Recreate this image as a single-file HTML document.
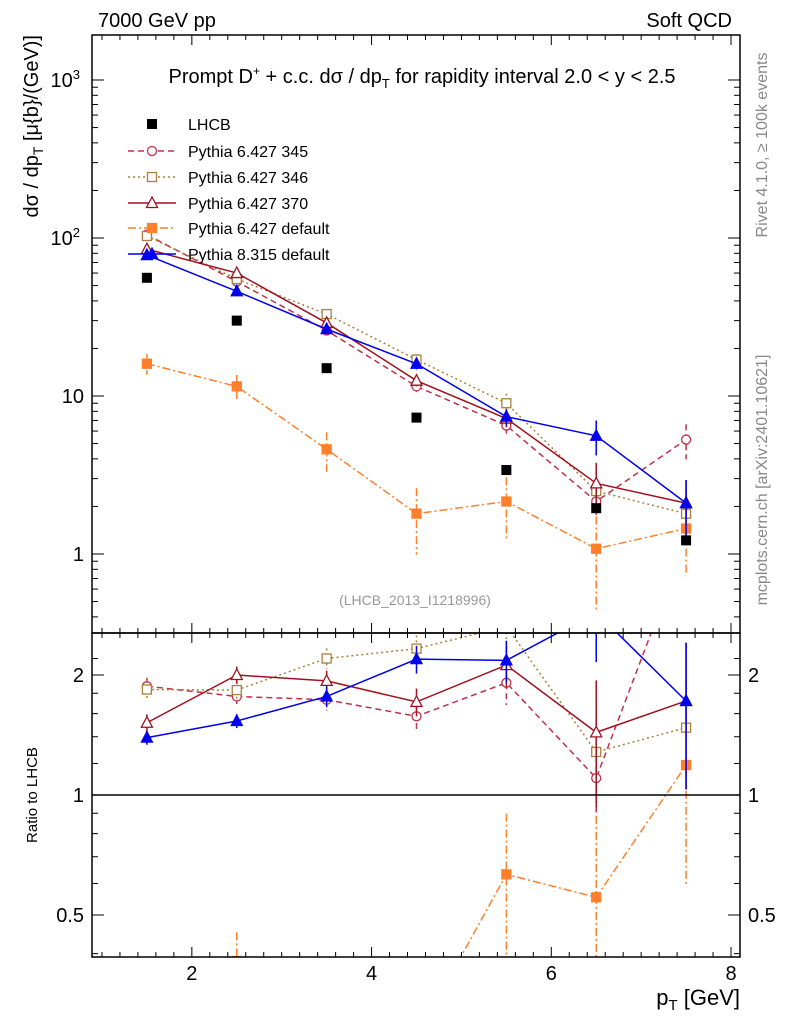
<!DOCTYPE html>
<html><head><meta charset="utf-8"><style>
html,body{margin:0;background:#fff;overflow:hidden;}
svg{font-family:"Liberation Sans",sans-serif;display:block;}
</style></head><body>
<svg id="c" width="786" height="1024" xmlns="http://www.w3.org/2000/svg"></svg>
<script>
const xCenters=[1.5,2.5,3.5,4.5,5.5,6.5,7.5];
const lhcb=[56,30,15,7.3,3.4,1.95,1.22];
const p345=[105,53,26,11.5,6.5,2.15,5.3];
const p346=[103,55,33,17,9,2.5,1.8];
const p370=[85,60,29,12.5,7.2,2.8,2.1];
const p6def=[16,11.5,4.6,1.8,2.15,1.08,1.45];
const p8=[78,46,26.5,16,7.4,5.6,2.1];
const err345=[0.05,0.05,0.06,0.08,0.12,0.2,0.25];
const err346=[0.05,0.05,0.06,0.08,0.15,0.25,0.3];
const err370=[0.05,0.05,0.06,0.08,0.12,0.35,0.4];
const err6=[0.15,0.18,0.28,0.45,0.42,0.6,0.5];
const err8=[0.04,0.04,0.06,0.08,0.12,0.25,0.4];
const xTicks=[2,4,6,8];
const mainYTicks=[1,10,100,1000];
const ratioTicks=[0.5,1,2];

const S=document.getElementById('c');const NS='http://www.w3.org/2000/svg';
function el(t,a,p){const e=document.createElementNS(NS,t);for(const k in a)e.setAttribute(k,a[k]);(p||S).appendChild(e);return e;}
const L=92,R=740,T=35,M=633,B=957;
const X=v=>L+(v-0.889)*(R-L)/(8.1-0.889);
const Y=v=>554-158*Math.log10(v);
const RY=v=>795-120*Math.log2(v);
const clipM=el('clipPath',{id:'cm'});el('rect',{x:L,y:T,width:R-L,height:M-T},clipM);
const clipR=el('clipPath',{id:'cr'});el('rect',{x:L,y:M,width:R-L,height:B-M},clipR);

const series=[
 {name:'p345',label:'Pythia 6.427 345',d:p345,e:err345,col:'#c0304a',dash:'6,4',mk:'circle',fill:false},
 {name:'p346',label:'Pythia 6.427 346',d:p346,e:err346,col:'#a8803a',dash:'2,3',mk:'square',fill:false},
 {name:'p370',label:'Pythia 6.427 370',d:p370,e:err370,col:'#a0101e',dash:'',mk:'tri',fill:false},
 {name:'p6-default',label:'Pythia 6.427 default',d:p6def,e:err6,col:'#ff7f2a',dash:'8,3,2,3',mk:'square',fill:true},
 {name:'p8-default',label:'Pythia 8.315 default',d:p8,e:err8,col:'#0000ee',dash:'',mk:'tri',fill:true}];

function marker(g,mk,x,y,col,fill,nm){
 let e;const a={stroke:col,'stroke-width':1.3,fill:fill?col:'#fff'};
 if(mk==='circle')e=el('circle',Object.assign({cx:x,cy:y,r:4.5},a),g);
 else if(mk==='square')e=el('rect',Object.assign({x:x-4.5,y:y-4.5,width:9,height:9},a),g);
 else e=el('polygon',Object.assign({points:`${x},${y-6} ${x-5.5},${y+4.5} ${x+5.5},${y+4.5}`},a),g);
 
 
}
function drawSeries(s,yf,vals,clip,tag){
 const g=el('g',{'clip-path':`url(#${clip})`});
 
 
 el('polyline',{points:vals.map((v,i)=>X(xCenters[i])+','+yf(v)).join(' '),fill:'none',stroke:s.col,'stroke-width':1.5,'stroke-dasharray':s.dash},g);
 vals.forEach((v,i)=>{const x=X(xCenters[i]);
  el('line',{x1:x,x2:x,y1:yf(v*(1+s.e[i])),y2:yf(Math.max(v*(1-s.e[i]),1e-3)),stroke:s.col,'stroke-width':1.5,'stroke-dasharray':s.dash},g);
  marker(g,s.mk,x,yf(v),s.col,s.fill,s.name+'-point');});
}
series.forEach(s=>drawSeries(s,Y,s.d,'cm','main'));
const lg=el('g',{'clip-path':'url(#cm)'});
lhcb.forEach((v,i)=>{const r=el('rect',{x:X(xCenters[i])-5,y:Y(v)-5,width:10,height:10,fill:'#000'},lg);});
series.forEach(s=>drawSeries(s,RY,s.d.map((v,i)=>v/lhcb[i]),'cr','ratio'));
el('line',{x1:L,x2:R,y1:RY(1),y2:RY(1),stroke:'#000','stroke-width':1.5});
el('rect',{x:L,y:T,width:R-L,height:M-T,fill:'none',stroke:'#000','stroke-width':1.5});
el('rect',{x:L,y:M,width:R-L,height:B-M,fill:'none',stroke:'#000','stroke-width':1.5});
for(let v=1;v<=8.01;v+=0.2){const x=X(v);const maj=xTicks.some(t=>Math.abs(t-v)<1e-6);const h=maj?10:5;
 [[T,1],[M,-1],[M,1],[B,-1]].forEach(([y0,d])=>el('line',{x1:x,x2:x,y1:y0,y2:y0+d*h,stroke:'#000'}));}
xTicks.forEach(t=>{const e=el('text',{x:X(t),y:980,'font-size':20,'text-anchor':'middle'});e.textContent=t;});
for(let d=-1;d<=3;d++)for(let m=1;m<10;m++){const v=m*Math.pow(10,d);const y=Y(v);if(y<T||y>M)continue;const h=m===1?12:6;
 el('line',{x1:L,x2:L+h,y1:y,y2:y,stroke:'#000'});el('line',{x1:R,x2:R-h,y1:y,y2:y,stroke:'#000'});}
const ylab=['1','10','10<tspan dy="-8" font-size="13">2</tspan>','10<tspan dy="-8" font-size="13">3</tspan>'];
mainYTicks.forEach((t,i)=>{const e=el('text',{x:t>=100?80:84,y:Y(t)+7,'font-size':20,'text-anchor':'end'});e.innerHTML=ylab[i];});
[0.4,0.5,0.6,0.7,0.8,0.9,1,1.2,1.4,1.6,1.8,2,2.2].forEach(v=>{const y=RY(v);if(y<M||y>B)return;const h=ratioTicks.includes(v)?12:6;
 el('line',{x1:L,x2:L+h,y1:y,y2:y,stroke:'#000'});el('line',{x1:R,x2:R-h,y1:y,y2:y,stroke:'#000'});});
ratioTicks.forEach(t=>{const a=el('text',{x:84,y:RY(t)+7,'font-size':20,'text-anchor':'end'});a.textContent=t;
 const b=el('text',{x:748,y:RY(t)+7,'font-size':20});b.textContent=t;});
function txt(x,y,s,html,attrs,name){const e=el('text',Object.assign({x,y,'font-size':s},attrs||{}));e.innerHTML=html;return e;}
txt(98,27,20,'7000 GeV pp',{},'header-left');
txt(732,27,20,'Soft QCD',{'text-anchor':'end'},'header-right');
txt(422,83,20,'Prompt D<tspan dy="-8" font-size="12">+</tspan><tspan dy="8"> + c.c.  dσ / dp</tspan><tspan dy="5" font-size="13">T</tspan><tspan dy="-5"> for rapidity interval 2.0 &lt; y &lt; 2.5</tspan>',{'text-anchor':'middle'},'plot-title');
txt(415,605,14,'(LHCB_2013_I1218996)',{'text-anchor':'middle',fill:'#999'},'analysis-id');
txt(740,1005,22,'p<tspan dy="5" font-size="15">T</tspan><tspan dy="-5"> [GeV]</tspan>',{'text-anchor':'end'},'x-axis-title');
txt(0,0,20,'dσ / dp<tspan dy="5" font-size="14">T</tspan><tspan dy="-5"> [μ{b}/(GeV)]</tspan>',{'text-anchor':'end',transform:'translate(38,35) rotate(-90)'},'y-axis-title');
txt(0,0,15,'Ratio to LHCB',{'text-anchor':'middle',transform:'translate(37,795) rotate(-90)'},'ratio-axis-title');
txt(0,0,16,'Rivet 4.1.0, ≥ 100k events',{'text-anchor':'middle',fill:'#888',transform:'translate(767,145) rotate(-90)'},'rivet-label');
txt(0,0,16,'mcplots.cern.ch [arXiv:2401.10621]',{'text-anchor':'middle',fill:'#888',transform:'translate(767,480) rotate(-90)'},'mcplots-label');
const lgY=[124,151,177,203,228,254];
const le=el('g',{});
el('rect',{x:147,y:lgY[0]-5,width:10,height:10,fill:'#000'},le);
txt(188,lgY[0]+6,16,'LHCB',{},'legend-entry');
series.forEach((s,i)=>{const y=lgY[i+1];
 el('line',{x1:128,x2:176,y1:y,y2:y,stroke:s.col,'stroke-width':1.5,'stroke-dasharray':s.dash},le);
 marker(le,s.mk,152,y,s.col,s.fill,'legend-marker');
 txt(188,y+6,16,s.label,{},'legend-entry');});
</script>
</body></html>
